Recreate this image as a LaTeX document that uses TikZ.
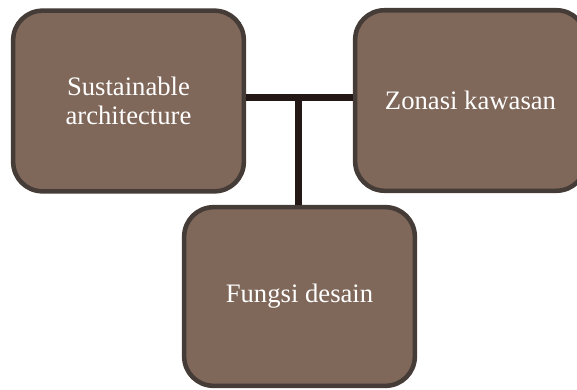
\documentclass[tikz,border=0pt]{standalone}
\usepackage{fontspec}
\setmainfont{Liberation Serif}
\usetikzlibrary{positioning}
\definecolor{boxfill}{HTML}{7F6759}
\definecolor{boxline}{HTML}{453C38}
\definecolor{linkline}{HTML}{231815}
\tikzset{
  topic/.style={draw=boxline, fill=boxfill, line width=3.4pt, rounded corners=22pt,
    text=white, font=\fontsize{20}{22}\selectfont, align=center, inner sep=0pt,
    minimum width=173pt},
  link/.style={draw=linkline, line width=5.25pt},
}
\begin{document}
\begin{tikzpicture}[x=0.75pt, y=-0.75pt]
        \useasboundingbox (0,0) rectangle (577,389);
        \node [topic, minimum height=135.5pt] (sust) at (128.5,101) {Sustainable\\architecture};
        \node [topic, minimum height=135.4pt] (zona) at (470.5,100.5) {Zonasi kawasan};
        \node [topic, minimum height=134pt] (fung) at (299.5,296.5) {Fungsi desain};
        \coordinate (hub) at (298.5,97);
        \draw [link] (sust.east |- hub) -- (zona.west |- hub);
        \draw [link] (hub) -- (fung.north -| hub);
    \end{tikzpicture}
\end{document}
